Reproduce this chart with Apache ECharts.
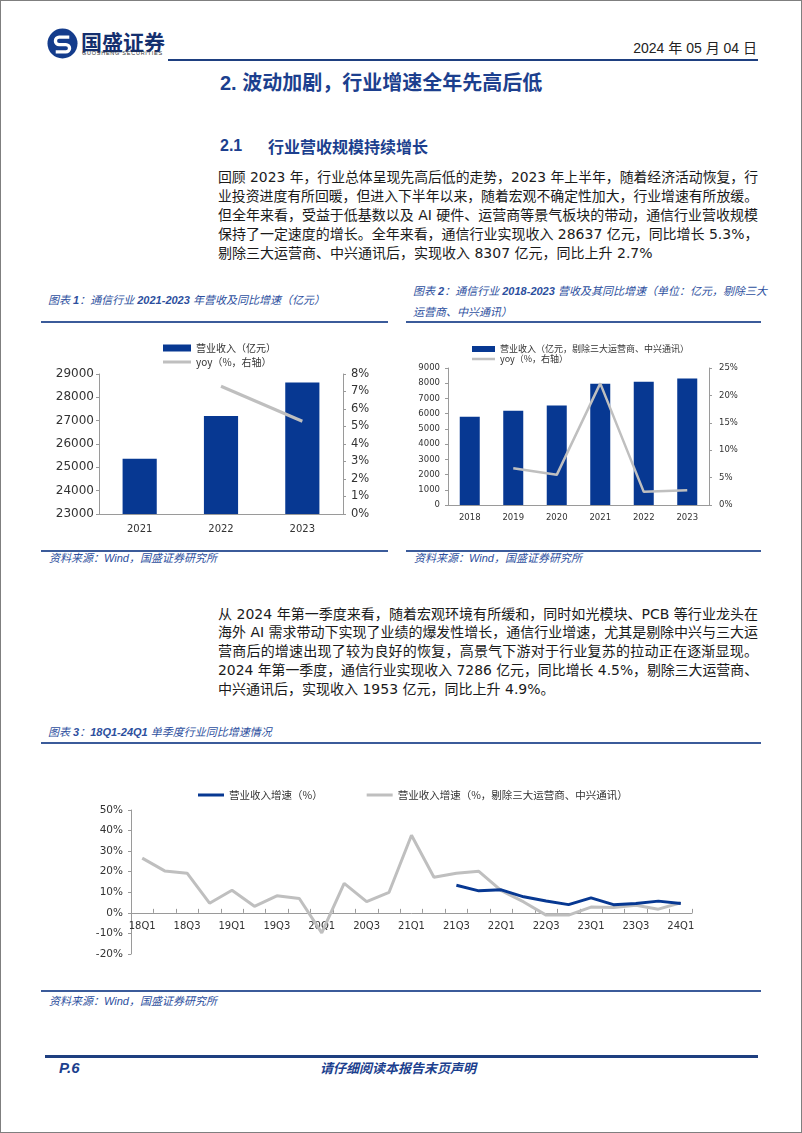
<!DOCTYPE html>
<html><head><meta charset="utf-8"><title>通信行业营收</title>
<script src="https://cdn.jsdelivr.net/npm/echarts@6.0.0/dist/echarts.min.js"></script>
<style>
html,body{margin:0;padding:0;background:#fff;}
#page{position:relative;width:802px;height:1133px;box-sizing:border-box;border:1px solid #7f7f7f;overflow:hidden;font-family:"Liberation Sans","Noto Sans CJK SC",sans-serif;color:#1a1a1a;}
.t{position:absolute;white-space:nowrap;}
.rule{position:absolute;background:#3b5b9a;}
.para{position:absolute;left:217px;width:540px;font-size:14px;line-height:19px;height:19px;white-space:nowrap;text-align:justify;text-align-last:justify;font-family:"DejaVu Sans","Noto Sans CJK SC",sans-serif;color:#1a1a1a;}
.para.last{text-align-last:left;}
.cap{position:absolute;font-style:italic;color:#2d4f9e;font-size:11px;line-height:14px;white-space:nowrap;font-family:"Liberation Sans","Noto Sans CJK SC",sans-serif;}
.cap b{font-weight:700;}
.chart{position:absolute;}
</style></head>
<body>
<div id="page">
  <svg class="t" style="left:46px;top:27px" width="31" height="31" viewBox="0 0 32 32">
    <circle cx="16" cy="16" r="15.5" fill="#143c8c"/>
    <path d="M23 9.5 H12.5 a3.8 3.8 0 0 0 0 7.6 h7 a3.8 3.8 0 0 1 0 7.6 H9" stroke="#fff" stroke-width="3.4" fill="none"/>
  </svg>
  <div class="t" style="left:80px;top:27px;font-size:21px;line-height:26px;font-weight:700;color:#142f6e;font-family:'Noto Sans CJK SC';">国盛证券</div>
  <div class="t" style="left:81px;top:49px;font-size:5.5px;line-height:7px;letter-spacing:0.75px;color:#333;">GUOSHENG SECURITIES</div>
  <div class="t" style="right:44px;top:38px;font-size:14px;line-height:18px;color:#222;">2024 年 05 月 04 日</div>
  <div class="rule" style="left:167px;top:58px;width:590px;height:2px;background:#1e3f80;"></div>

  <div class="t" style="left:219px;top:69px;font-size:20px;line-height:26px;font-weight:700;color:#1c3f8e;font-family:'Liberation Sans','Noto Sans CJK SC';">2. 波动加剧，行业增速全年先高后低</div>
  <div class="t" style="left:219px;top:135px;font-size:16px;line-height:20px;font-weight:700;color:#1c3f8e;">2.1</div>
  <div class="t" style="left:267px;top:135px;font-size:16px;line-height:20px;font-weight:700;color:#1c3f8e;font-family:'Noto Sans CJK SC';">行业营收规模持续增长</div>

  <div class="para fit" style="top:167px">回顾 2023 年，行业总体呈现先高后低的走势，2023 年上半年，随着经济活动恢复，行</div>
  <div class="para fit" style="top:186px">业投资进度有所回暖，但进入下半年以来，随着宏观不确定性加大，行业增速有所放缓。</div>
  <div class="para fit" style="top:205px">但全年来看，受益于低基数以及 AI 硬件、运营商等景气板块的带动，通信行业营收规模</div>
  <div class="para fit" style="top:224px">保持了一定速度的增长。全年来看，通信行业实现收入 28637 亿元，同比增长 5.3%，</div>
  <div class="para last" style="top:243px">剔除三大运营商、中兴通讯后，实现收入 8307 亿元，同比上升 2.7%</div>

  <div class="cap" style="left:47px;top:292px;">图表 <b>1</b>：通信行业 <b>2021-2023</b> 年营收及同比增速（亿元）</div>
  <div class="cap" style="left:412px;top:283px;">图表 <b>2</b>：通信行业 <b>2018-2023</b> 营收及其同比增速（单位：亿元，剔除三大</div>
  <div class="cap" style="left:412px;top:304px;">运营商、中兴通讯）</div>
  <div class="rule" style="left:40px;top:320px;width:347px;height:2px;"></div>
  <div class="rule" style="left:405px;top:320px;width:355px;height:2px;"></div>

  <div id="c1" class="chart" style="left:40px;top:325px;width:350px;height:220px;"></div>
  <div id="c2" class="chart" style="left:405px;top:325px;width:355px;height:220px;"></div>

  <div class="rule" style="left:40px;top:549px;width:347px;height:2px;"></div>
  <div class="rule" style="left:405px;top:549px;width:355px;height:2px;"></div>
  <div class="cap" style="left:48px;top:550px;">资料来源：Wind，国盛证券研究所</div>
  <div class="cap" style="left:413px;top:550px;">资料来源：Wind，国盛证券研究所</div>

  <div class="para fit" style="top:604px">从 2024 年第一季度来看，随着宏观环境有所缓和，同时如光模块、PCB 等行业龙头在</div>
  <div class="para fit" style="top:622px">海外 AI 需求带动下实现了业绩的爆发性增长，通信行业增速，尤其是剔除中兴与三大运</div>
  <div class="para fit" style="top:641px">营商后的增速出现了较为良好的恢复，高景气下游对于行业复苏的拉动正在逐渐显现。</div>
  <div class="para fit" style="top:660px">2024 年第一季度，通信行业实现收入 7286 亿元，同比增长 4.5%，剔除三大运营商、</div>
  <div class="para last" style="top:679px">中兴通讯后，实现收入 1953 亿元，同比上升 4.9%。</div>

  <div class="cap" style="left:47px;top:724px;">图表 <b>3</b>：<b>18Q1-24Q1</b> 单季度行业同比增速情况</div>
  <div class="rule" style="left:40px;top:741px;width:720px;height:2px;"></div>

  <div id="c3" class="chart" style="left:40px;top:775px;width:720px;height:200px;"></div>

  <div class="rule" style="left:40px;top:989px;width:720px;height:2px;"></div>
  <div class="cap" style="left:48px;top:993px;">资料来源：Wind，国盛证券研究所</div>

  <div class="rule" style="left:44px;top:1054px;width:713px;height:3px;background:#1e3f80;"></div>
  <div class="t" style="left:58px;top:1058px;font-size:15px;line-height:18px;font-weight:700;font-style:italic;color:#1c3f8e;">P.6</div>
  <div class="t" style="left:319px;top:1059px;font-size:13px;line-height:16px;font-weight:700;font-style:italic;color:#1c3f8e;font-family:'Noto Sans CJK SC';">请仔细阅读本报告末页声明</div>
</div>

<script>
// ---- Chart 1 data ----
const c1Years = ['2021', '2022', '2023'];
const c1Revenue = [25370, 27196, 28637];
const c1Yoy = [null, 7.3, 5.3];
const c1Names = ['营业收入（亿元）', 'yoy（%，右轴）'];

// ---- Chart 2 data ----
const c2Years = ['2018', '2019', '2020', '2021', '2022', '2023'];
const c2Revenue = [5800, 6190, 6530, 7960, 8090, 8307];
const c2Yoy = [null, 6.7, 5.5, 22.2, 2.4, 2.7];
const c2Names = ['营业收入（亿元，剔除三大运营商、中兴通讯）', 'yoy（%，右轴）'];

// ---- Chart 3 data ----
const c3Quarters = ['18Q1','18Q2','18Q3','18Q4','19Q1','19Q2','19Q3','19Q4','20Q1','20Q2','20Q3','20Q4',
  '21Q1','21Q2','21Q3','21Q4','22Q1','22Q2','22Q3','22Q4','23Q1','23Q2','23Q3','23Q4','24Q1'];
const c3Total = [null,null,null,null,null,null,null,null,null,null,null,null,null,null,
  13.4, 10.7, 11.2, 7.8, 5.8, 4.0, 7.3, 4.0, 4.5, 5.7, 4.5];
const c3Excl = [26.6, 20.4, 19.3, 4.7, 11.0, 3.2, 8.3, 7.0, -9.7, 14.3, 5.5, 10.0,
  37.7, 17.3, 19.3, 20.2, 10.8, 5.3, -1.1, -1.1, 2.8, 2.6, 3.7, 1.8, 4.9];
const c3Names = ['营业收入增速（%）', '营业收入增速（%，剔除三大运营商、中兴通讯）'];

const BLUE = '#073892';
const GRAY = '#BFBFBF';
const AXIS = '#9a9a9a';
const NUMFONT = 'DejaVu Sans';
const CJK = 'Noto Sans CJK SC';

function plain(v) { return String(v); }
function pct(v) { return v + '%'; }

function valAxis(min, max, interval, fontSize, margin, pos, fmt) {
  return {
    type: 'value', min: min, max: max, interval: interval, position: pos,
    splitLine: { show: false },
    axisLine: { show: true, lineStyle: { color: AXIS, width: 1 } },
    axisTick: { show: true, length: 3, lineStyle: { color: AXIS } },
    axisLabel: { fontSize: fontSize, color: '#333', margin: margin, fontFamily: NUMFONT, formatter: fmt || plain }
  };
}

function legendBox(left, top, w, h, fs, lh, name, icon) {
  return {
    orient: 'vertical', left: left, top: top, padding: 0, itemWidth: w, itemHeight: h,
    textStyle: { fontSize: fs, lineHeight: lh, color: '#333', fontFamily: CJK },
    data: [{ name: name, icon: icon }]
  };
}

const ch1 = echarts.init(document.getElementById('c1'), null, { renderer: 'canvas' });
ch1.setOption({
  animation: false,
  legend: [
    legendBox(122, 16, 28, 7, 10, 12, c1Names[0], 'rect'),
    legendBox(122, 30, 28, 3, 10, 12, c1Names[1], 'rect')
  ],
  grid: { left: 58, right: 48, top: 48, bottom: 32 },
  xAxis: {
    type: 'category', data: c1Years,
    axisLine: { lineStyle: { color: AXIS } }, axisTick: { show: false },
    axisLabel: { fontSize: 10, color: '#333', margin: 10, fontFamily: NUMFONT }
  },
  yAxis: [
    valAxis(23000, 29000, 1000, 12, 5, 'left'),
    valAxis(0, 8, 1, 11.5, 8, 'right', pct)
  ],
  series: [
    { name: c1Names[0], type: 'bar', data: c1Revenue, barWidth: '42%', itemStyle: { color: BLUE } },
    { name: c1Names[1], type: 'line', yAxisIndex: 1, data: c1Yoy, symbol: 'none',
      lineStyle: { color: GRAY, width: 3 }, itemStyle: { color: GRAY } }
  ]
});

const ch2 = echarts.init(document.getElementById('c2'), null, { renderer: 'canvas' });
ch2.setOption({
  animation: false,
  legend: [
    legendBox(66, 18, 23, 6, 9, 10, c2Names[0], 'rect'),
    legendBox(66, 28, 23, 2.5, 9, 10, c2Names[1], 'rect')
  ],
  grid: { left: 42, right: 52, top: 42, bottom: 41 },
  xAxis: {
    type: 'category', data: c2Years,
    axisLine: { lineStyle: { color: AXIS } }, axisTick: { show: false },
    axisLabel: { fontSize: 8.5, color: '#333', margin: 8, fontFamily: NUMFONT }
  },
  yAxis: [
    valAxis(0, 9000, 1000, 8.5, 8, 'left'),
    valAxis(0, 25, 5, 8.5, 10, 'right', pct)
  ],
  series: [
    { name: c2Names[0], type: 'bar', data: c2Revenue, barWidth: '46%', itemStyle: { color: BLUE } },
    { name: c2Names[1], type: 'line', yAxisIndex: 1, data: c2Yoy, symbol: 'none',
      lineStyle: { color: GRAY, width: 2.5 }, itemStyle: { color: GRAY } }
  ]
});

const ch3 = echarts.init(document.getElementById('c3'), null, { renderer: 'canvas' });
ch3.setOption({
  animation: false,
  legend: {
    left: 157, top: 13, padding: 0, itemWidth: 26, itemHeight: 3, itemGap: 44,
    textStyle: { fontSize: 10.5, lineHeight: 12, color: '#333', fontFamily: CJK },
    data: [{ name: c3Names[0], icon: 'rect' }, { name: c3Names[1], icon: 'rect' }]
  },
  grid: { left: 90, right: 69, top: 34, bottom: 22 },
  xAxis: {
    type: 'category', data: c3Quarters,
    axisLine: { onZero: false, lineStyle: { color: AXIS } },
    axisTick: { show: true, inside: true, length: 4, interval: 0, lineStyle: { color: AXIS } },
    axisLabel: { interval: 1, fontSize: 10, color: '#333', margin: 9, fontFamily: NUMFONT }
  },
  yAxis: valAxis(-20, 50, 10, 10.5, 8, 'left', pct),
  series: [
    { name: c3Names[0], type: 'line', data: c3Total, symbol: 'none', z: 4,
      lineStyle: { color: BLUE, width: 3 }, itemStyle: { color: BLUE } },
    { name: c3Names[1], type: 'line', data: c3Excl, symbol: 'none', z: 3,
      lineStyle: { color: GRAY, width: 3 }, itemStyle: { color: GRAY } }
  ]
});
// place the category axis (line, ticks, labels) on the 0% level
(function () {
  const zeroY = ch3.convertToPixel({ yAxisIndex: 0 }, 0);
  const bottomY = ch3.convertToPixel({ yAxisIndex: 0 }, -20);
  ch3.setOption({ xAxis: { offset: zeroY - bottomY } });
})();

// fit justified paragraph lines into their box
document.querySelectorAll('.fit').forEach(function (el) {
  const w = el.clientWidth, s = el.scrollWidth;
  if (s > w + 0.5) {
    el.style.width = s + 'px';
    el.style.transformOrigin = 'left center';
    el.style.transform = 'scaleX(' + (w / s) + ')';
  }
});
</script>
</body></html>
